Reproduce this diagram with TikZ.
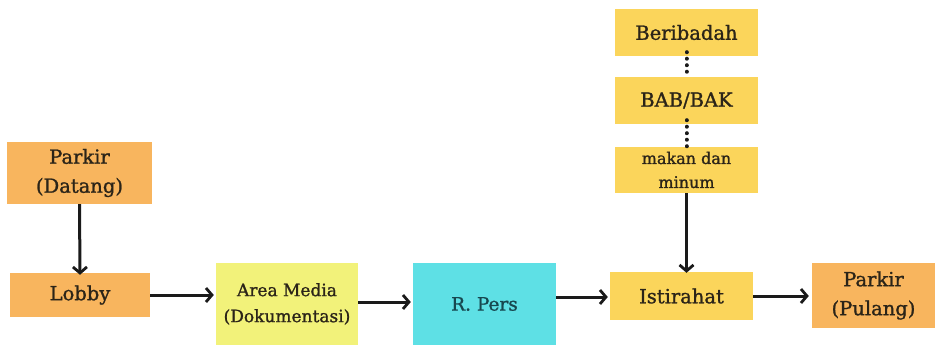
\documentclass[tikz,border=0pt]{standalone}
\usepackage{fontspec}
\setmainfont{DejaVu Serif}[FakeBold=1.2]
\usetikzlibrary{arrows.meta}

\definecolor{boxorange}{HTML}{F8B55E}
\definecolor{boxyellow}{HTML}{FBD55B}
\definecolor{boxlime}{HTML}{F2F27A}
\definecolor{boxcyan}{HTML}{5EE0E5}
\definecolor{ink}{HTML}{2B2418}
\definecolor{tealink}{HTML}{17474F}
\definecolor{linecol}{HTML}{1A1A1A}

\tikzset{
  box/.style={inner sep=0pt, align=center, text=ink, font=\fontsize{19.5}{29}\selectfont},
  flowarrow/.style={draw=linecol, line width=3pt,
    -{Straight Barb[length=6pt, width=14pt, line width=2.8pt]}},
  dotlink/.style={draw=linecol, line width=4pt, line cap=round,
    dash pattern=on 0.01pt off 6.5pt}
}

\begin{document}
\begin{tikzpicture}[x=1pt, y=-1pt]
  \useasboundingbox (0,0) rectangle (941,347);
  \fill[white] (0,0) rectangle (941,347);

  % main route
  \node[box, fill=boxorange, minimum width=145pt, minimum height=62pt] (datang) at (79.5,173) {Parkir\\(Datang)};
  \node[box, fill=boxorange, minimum width=140pt, minimum height=44pt] (lobby) at (80,295) {Lobby};
  \node[box, fill=boxlime, minimum width=142pt, minimum height=82pt,
        font=\fontsize{17}{26}\selectfont] (media) at (287,304) {Area Media\\(Dokumentasi)};
  \node[box, fill=boxcyan, minimum width=143pt, minimum height=82pt, text=tealink,
        font=\fontsize{18.5}{22}\selectfont] (pers) at (484.5,304) {R. Pers};
  \node[box, fill=boxyellow, minimum width=143pt, minimum height=48pt] (istirahat) at (681.5,296) {Istirahat};
  \node[box, fill=boxorange, minimum width=123pt, minimum height=65pt] (pulang) at (873.5,295.5) {Parkir\\(Pulang)};

  % break activities
  \node[box, fill=boxyellow, minimum width=143pt, minimum height=47pt] (ibadah) at (686.5,32.5) {Beribadah};
  \node[box, fill=boxyellow, minimum width=143pt, minimum height=47pt] (toilet) at (686.5,100.5) {BAB/BAK};
  \node[box, fill=boxyellow, minimum width=143pt, minimum height=46pt,
        font=\fontsize{16}{24}\selectfont] (makan) at (686.5,170) {makan dan\\minum};

  % connectors
  \draw[flowarrow] (datang.south) -- ([yshift=-2pt]lobby.north);
  \draw[flowarrow] (lobby.east) -- ([xshift=-2pt]media.west |- lobby.east);
  \coordinate (mp) at (media.east |- 0,302);
  \draw[flowarrow] (mp) -- ([xshift=-2pt]pers.west |- mp);
  \coordinate (pp) at (pers.east |- 0,297);
  \draw[flowarrow] (pp) -- ([xshift=-2pt]istirahat.west |- pp);
  \draw[flowarrow] (istirahat.east) -- ([xshift=-3pt]pulang.west |- istirahat.east);
  \draw[flowarrow] (makan.south) -- ([yshift=-1pt]istirahat.north -| makan.south);

  \draw[dotlink] ([yshift=4pt]ibadah.south) -- (toilet.north);
  \draw[dotlink] ([yshift=4pt]toilet.south) -- (makan.north);
\end{tikzpicture}
\end{document}
